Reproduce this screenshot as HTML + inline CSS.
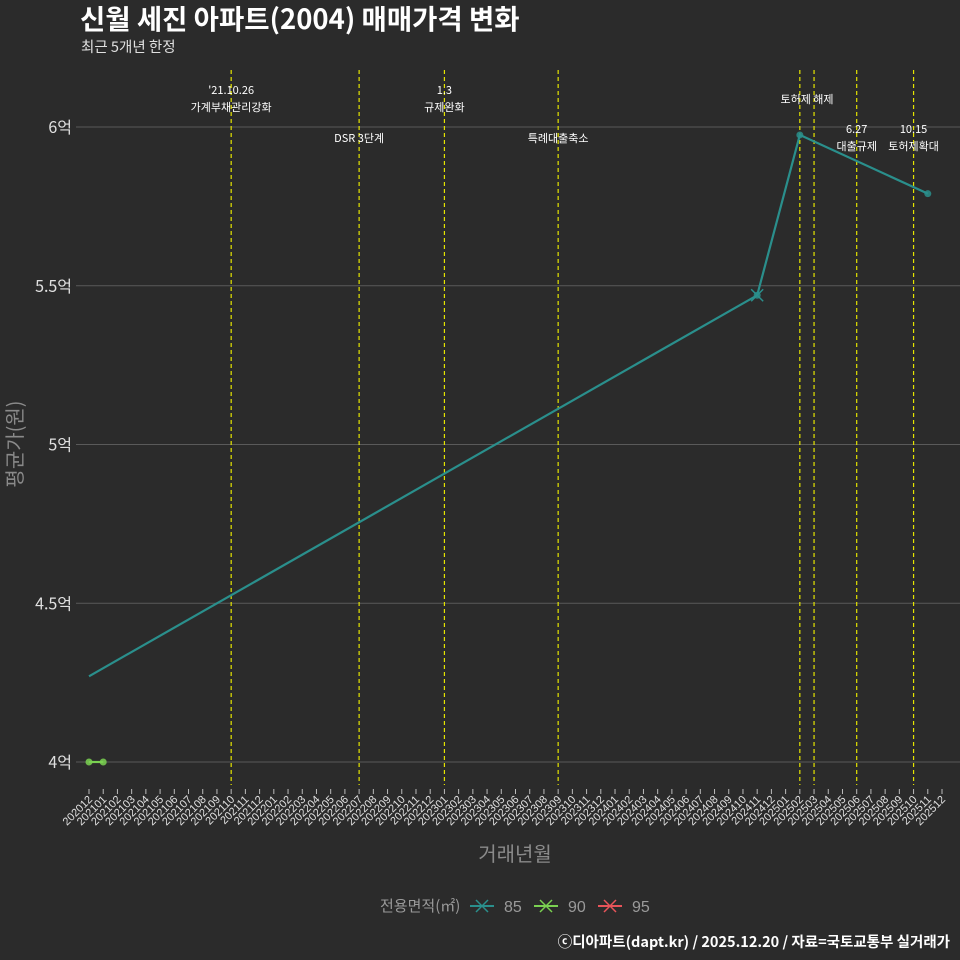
<!DOCTYPE html>
<html><head><meta charset="utf-8">
<style>
html,body{margin:0;padding:0;background:#2b2b2b;}
svg{display:block;font-family:"Liberation Sans","Noto Sans CJK KR",sans-serif;}
.kr{font-family:"Noto Sans CJK KR","Liberation Sans",sans-serif;}
</style></head>
<body>
<svg id="chart" width="960" height="960" viewBox="0 0 960 960">
<rect width="960" height="960" fill="#2b2b2b"/>
<text class="kr" x="80" y="29" font-size="27.5" font-weight="bold" fill="#ffffff">신월 세진 아파트(2004) 매매가격 변화</text>
<text class="kr" x="81" y="52" font-size="14.5" fill="#e0e0e0">최근 5개년 한정</text>
<g id="grid"></g><g id="events"></g><g id="series"></g><g id="xaxis"></g>
<text class="kr" transform="translate(22,444) rotate(-90)" text-anchor="middle" font-size="20" fill="#8a8a8a">평균가(원)</text>
<text class="kr" x="515" y="861" text-anchor="middle" font-size="20" fill="#8a8a8a">거래년월</text>
<g id="legend"></g>
<text class="kr" x="950" y="947" text-anchor="end" font-size="14.5" font-weight="bold" fill="#ffffff">ⓒ디아파트(dapt.kr) / 2025.12.20 / 자료=국토교통부 실거래가</text>
</svg>
<script>
const months = [];
for (let y = 2020; y <= 2025; y++) for (let m = 1; m <= 12; m++) { const k = y*100+m; if (k >= 202012) months.push(String(k)); }
const yTicks = [4, 4.5, 5, 5.5, 6];
const yTickLabels = ['4억','4.5억','5억','5.5억','6억'];
const s85Months = ['202012','202411','202502','202511'];
const s85Values = [4.27, 5.47, 5.975, 5.79];
const s90Months = ['202012','202101'];
const s90Values = [4.0, 4.0];
const s95Months = [];
const s95Values = [];
const eventMonths = ['202110','202207','202301','202309','202502','202503','202506','202510'];
const eventLabels = [["'21.10.26","가계부채관리강화"],["DSR 3단계"],["1.3","규제완화"],["특례대출축소"],[],[],["6.27","대출규제"],["10.15","토허제확대"]];

const NS='http://www.w3.org/2000/svg';
function mk(t,a,p){const e=document.createElementNS(NS,t);for(const k in a)e.setAttribute(k,a[k]);p.appendChild(e);return e;}
const x0=89, step=(942-89)/60;
function X(m){return x0+months.indexOf(m)*step;}
function Y(v){return 762-(v-4)*317.5;}

const grid=document.getElementById('grid');
yTicks.forEach((v,i)=>{
  const l=mk('line',{x1:76,x2:960,y1:Y(v),y2:Y(v),stroke:'#5a5a5a','stroke-width':1},grid);
  
  
  const t=mk('text',{x:72,y:Y(v)+6,'text-anchor':'end','font-size':16,fill:'#e0e0e0','class':'kr'},grid);
  t.textContent=yTickLabels[i];
  
  
});

const ev=document.getElementById('events');
eventMonths.forEach((m,i)=>{
  const x=X(m);
  const l=mk('line',{x1:x,x2:x,y1:70,y2:785,stroke:'#e5e500','stroke-width':1.2,'stroke-dasharray':'4,3'},ev);
  
  
  const lab=eventLabels[i];
  let ys;
  if(lab.length===2) ys=(m==='202506'||m==='202510')?[133,150]:[94,111];
  else ys=[142];
  lab.forEach((s,j)=>{
    const t=mk('text',{x:x,y:ys[j],'text-anchor':'middle','font-size':11,fill:'#ffffff','class':'kr'},ev);
    t.textContent=s;
    
    
  });
});
const t2=mk('text',{x:807,y:103,'text-anchor':'middle','font-size':11,fill:'#ffffff','class':'kr'},ev);
t2.textContent='토허제 해제';



const se=document.getElementById('series');
function drawSeries(ms,vs,col,name){
  if(!ms.length)return;
  const p=mk('polyline',{points:ms.map((m,i)=>X(m)+','+Y(vs[i])).join(' '),fill:'none',stroke:col,'stroke-width':2.2},se);
  
  
  ms.forEach((m,i)=>{
    if(name==='85'&&i===0)return;
    const c=mk('circle',{cx:X(m),cy:Y(vs[i]),r:3.5,fill:col,opacity:0.85},se);
    
    
  });
}
drawSeries(s85Months,s85Values,'#2a8f8c','85');
drawSeries(s90Months,s90Values,'#7ad151','90');
drawSeries(s95Months,s95Values,'#e8545a','95');
{const x=X('202411'),y=Y(s85Values[1]);
 const g=mk('path',{d:`M${x-6},${y-6}L${x+6},${y+6}M${x-6},${y+6}L${x+6},${y-6}`,stroke:'#2a8f8c','stroke-width':1.5},se);
 
 }

const xa=document.getElementById('xaxis');
months.forEach(m=>{
  const x=X(m);
  const tk=mk('line',{x1:x,x2:x,y1:789,y2:794,stroke:'#bbbbbb','stroke-width':1},xa);
  
  
  const t=mk('text',{transform:`translate(${x+4},${800}) rotate(-45)`,'text-anchor':'end','font-size':11,fill:'#e0e0e0'},xa);
  t.textContent=m;
  
  
});

const lg=document.getElementById('legend');
const lt=mk('text',{x:380,y:911,'font-size':15,fill:'#9a9a9a','class':'kr'},lg);
lt.textContent='전용면적(㎡)';


[['85','#2a8f8c',470],['90','#7ad151',534],['95','#e8545a',598]].forEach(([n,c,x])=>{
  const g=mk('g',{},lg);
  
  
  mk('line',{x1:x,x2:x+24,y1:906,y2:906,stroke:c,'stroke-width':2},g);
  mk('path',{d:`M${x+6},${900}L${x+18},${912}M${x+6},${912}L${x+18},${900}`,stroke:c,'stroke-width':1.5},g);
  const t=mk('text',{x:x+34,y:912,'font-size':16,fill:'#9a9a9a'},g);
  t.textContent=n;
});
</script>
</body></html>
